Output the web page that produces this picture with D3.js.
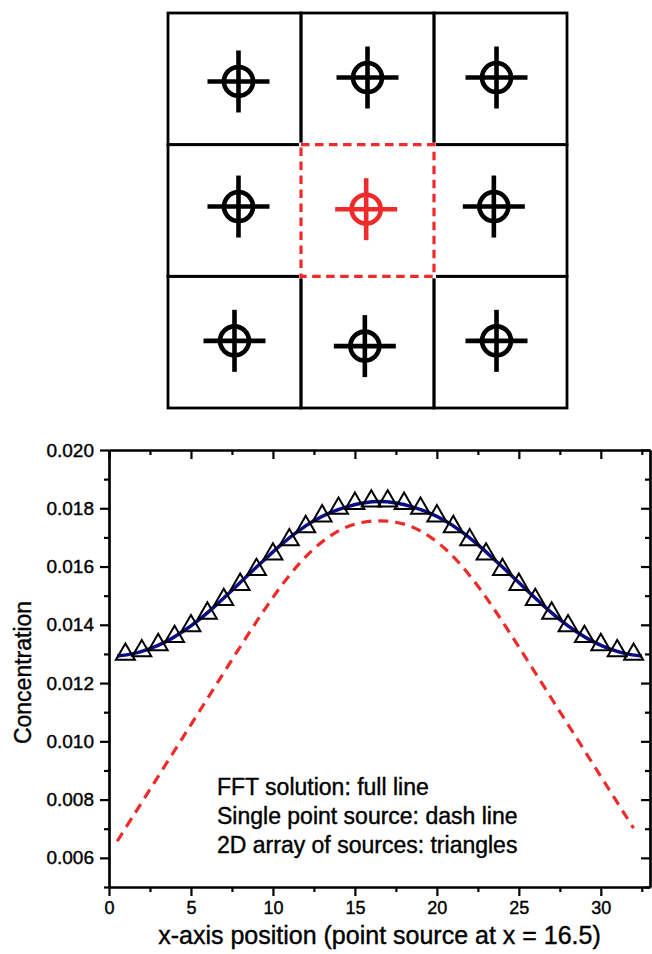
<!DOCTYPE html>
<html>
<head>
<meta charset="utf-8">
<script src="https://cdn.jsdelivr.net/npm/d3@7"></script>
<style>
  body { margin: 0; background: #fff; }
  svg { display: block; font-family: "Liberation Sans", Arial, sans-serif; }
  text { stroke: #000; stroke-width: 0.4px; }
</style>
</head>
<body>
<svg id="chart"></svg>
<script>
// ---- data ----
// source positions in the 3x3 cell diagram (cell units)
const sourceCol = [0.53, 1.50, 2.47, 0.53, 1.49, 2.45, 0.50, 1.48, 2.47];
const sourceRow = [0.52, 0.49, 0.49, 1.47, 1.49, 1.47, 2.49, 2.53, 2.49];
const centerIndex = 4;

// FFT solution (full line)
const fftX = [0.5, 1.5, 2.5, 3.5, 4.5, 5.5, 6.5, 7.5, 8.5, 9.5, 10.5, 11.5, 12.5, 13.5, 14.5, 15.5,
              16.5, 17.5, 18.5, 19.5, 20.5, 21.5, 22.5, 23.5, 24.5, 25.5, 26.5, 27.5, 28.5, 29.5, 30.5, 31.5, 32.5];
const fftY = [0.01293, 0.01301, 0.01318, 0.01343, 0.01377, 0.01418, 0.01466, 0.01518, 0.01572, 0.01624, 0.01675,
              0.01720, 0.01757, 0.01785, 0.01805, 0.01818, 0.01823, 0.01818, 0.01805, 0.01785, 0.01757, 0.01720,
              0.01675, 0.01624, 0.01572, 0.01518, 0.01466, 0.01418, 0.01377, 0.01343, 0.01318, 0.01301, 0.01293];

// single point source (dash line)
const singleX = [0.5, 1.5, 2.5, 3.5, 4.5, 5.5, 6.5, 7.5, 8.5, 9.5, 10.5, 11.5, 12.5, 13.5, 14.5, 15.5,
                 16.5, 17.5, 18.5, 19.5, 20.5, 21.5, 22.5, 23.5, 24.5, 25.5, 26.5, 27.5, 28.5, 29.5, 30.5, 31.5, 32.0];
const singleY = [0.00657, 0.00746, 0.00835, 0.00924, 0.01013, 0.01102, 0.01191, 0.01280, 0.01368, 0.01453, 0.01533,
                 0.01603, 0.01661, 0.01705, 0.01736, 0.01752, 0.01757, 0.01752, 0.01736, 0.01705, 0.01661, 0.01603,
                 0.01533, 0.01453, 0.01368, 0.01280, 0.01191, 0.01102, 0.01013, 0.00924, 0.00835, 0.00746, 0.00702];

// 2D array of sources (triangles)
const triX = [1, 2, 3, 4, 5, 6, 7, 8, 9, 10, 11, 12, 13, 14, 15, 16,
              17, 18, 19, 20, 21, 22, 23, 24, 25, 26, 27, 28, 29, 30, 31, 32];
const triY = [0.01302, 0.01314, 0.01335, 0.01363, 0.01400, 0.01443, 0.01490, 0.01542, 0.01593, 0.01646, 0.01695,
              0.01740, 0.01777, 0.01803, 0.01820, 0.01828, 0.01828, 0.01820, 0.01803, 0.01777, 0.01740, 0.01695,
              0.01646, 0.01593, 0.01542, 0.01490, 0.01443, 0.01400, 0.01363, 0.01335, 0.01314, 0.01302];

const xMajor = [0, 5, 10, 15, 20, 25, 30];
const xMinor = [2.5, 7.5, 12.5, 17.5, 22.5, 27.5, 32.5];
const yMajor = [0.006, 0.008, 0.010, 0.012, 0.014, 0.016, 0.018, 0.020];
const yMinor = [0.005, 0.007, 0.009, 0.011, 0.013, 0.015, 0.017, 0.019];

const legendLines = [
    "FFT solution: full line",
    "Single point source: dash line",
    "2D array of sources: triangles"
];

// ---- setup ----
const width = 652, height = 954;
const svg = d3.select('#chart').attr('width', width).attr('height', height);
const red = '#ee2a2a';

// ---- top diagram: 3x3 cells ----
const gx = d3.scaleLinear().domain([0, 3]).range([168, 567]);
const gy = d3.scaleLinear().domain([0, 3]).range([13, 408]);
const cells = [];
for (let r = 0; r < 3; r++) for (let c = 0; c < 3; c++) cells.push({ r, c });

const diagram = svg.append('g');
diagram.selectAll('rect.cell')
    .data(cells.filter(d => !(d.r === 1 && d.c === 1)))
    .enter().append('rect')
    .attr('x', d => gx(d.c)).attr('y', d => gy(d.r))
    .attr('width', d => gx(d.c + 1) - gx(d.c))
    .attr('height', d => gy(d.r + 1) - gy(d.r))
    .attr('fill', 'none').attr('stroke', '#000').attr('stroke-width', 2.8);

// center cell: wipe the black edges then draw red dashes
diagram.append('rect')
    .attr('x', gx(1)).attr('y', gy(1))
    .attr('width', gx(2) - gx(1)).attr('height', gy(2) - gy(1))
    .attr('fill', '#fff').attr('stroke', '#fff').attr('stroke-width', 4);
diagram.append('rect')
    .attr('x', gx(1)).attr('y', gy(1))
    .attr('width', gx(2) - gx(1)).attr('height', gy(2) - gy(1))
    .attr('fill', 'none').attr('stroke', red).attr('stroke-width', 3.2)
    .attr('stroke-dasharray', '8.5,5.5');

const marks = diagram.selectAll('g.src')
    .data(sourceCol.map((c, i) => ({ c, r: sourceRow[i], i })))
    .enter().append('g')
    .attr('transform', d => `translate(${gx(d.c)},${gy(d.r)})`)
    .attr('stroke', d => d.i === centerIndex ? red : '#000')
    .attr('stroke-width', 4.6)
    .attr('fill', 'none');
marks.append('circle').attr('r', 14.5);
marks.append('line').attr('x1', -31).attr('x2', 31);
marks.append('line').attr('y1', -31).attr('y2', 31);

// ---- bottom chart ----
const x = d3.scaleLinear().domain([0, 33]).range([109, 650]);
const y = d3.scaleLinear().domain([0.005, 0.020]).range([887, 450]);
const [x0, x1] = x.range();
const [y0, y1] = y.range();

const axisStyle = sel => {
    sel.selectAll('path, line').attr('stroke', '#000').attr('stroke-width', 2.2);
    sel.selectAll('text').attr('fill', '#000').style('font-family', '"Liberation Sans", Arial, sans-serif');
};

// bottom axis, outward ticks
svg.append('g').attr('transform', `translate(0,${y0})`)
    .call(d3.axisBottom(x).tickValues(xMajor).tickSize(9).tickSizeOuter(0).tickPadding(5).tickFormat(d3.format('d')))
    .call(axisStyle)
    .call(g => g.selectAll('text').style('font-size', '18px'));
svg.append('g').attr('transform', `translate(0,${y0})`)
    .call(d3.axisBottom(x).tickValues(xMinor).tickSize(5).tickSizeOuter(0).tickFormat(''))
    .call(axisStyle);

// top axis, inward ticks
svg.append('g').attr('transform', `translate(0,${y1})`)
    .call(d3.axisTop(x).tickValues(xMajor).tickSize(-9).tickSizeOuter(0).tickFormat(''))
    .call(axisStyle);
svg.append('g').attr('transform', `translate(0,${y1})`)
    .call(d3.axisTop(x).tickValues(xMinor).tickSize(-5).tickSizeOuter(0).tickFormat(''))
    .call(axisStyle);

// left axis, outward ticks
svg.append('g').attr('transform', `translate(${x0},0)`)
    .call(d3.axisLeft(y).tickValues(yMajor).tickSize(9).tickSizeOuter(0).tickPadding(6).tickFormat(d3.format('.3f')))
    .call(axisStyle)
    .call(g => g.selectAll('text').style('font-size', '19px'));
svg.append('g').attr('transform', `translate(${x0},0)`)
    .call(d3.axisLeft(y).tickValues(yMinor).tickSize(5).tickSizeOuter(0).tickFormat(''))
    .call(axisStyle);

// right axis, inward ticks
svg.append('g').attr('transform', `translate(${x1},0)`)
    .call(d3.axisRight(y).tickValues(yMajor).tickSize(-9).tickSizeOuter(0).tickFormat(''))
    .call(axisStyle);
svg.append('g').attr('transform', `translate(${x1},0)`)
    .call(d3.axisRight(y).tickValues(yMinor).tickSize(-5).tickSizeOuter(0).tickFormat(''))
    .call(axisStyle);

// axis titles
svg.append('text')
    .attr('x', (x0 + x1) / 2).attr('y', 944)
    .attr('text-anchor', 'middle')
    .style('font-size', '25px')
    .text('x-axis position (point source at x = 16.5)');
svg.append('text')
    .attr('transform', `translate(31,${(y0 + y1) / 2 + 4}) rotate(-90)`)
    .attr('text-anchor', 'middle')
    .style('font-size', '23px')
    .text('Concentration');

// series
const line = d3.line().x(d => x(d[0])).y(d => y(d[1])).curve(d3.curveCatmullRom);

svg.append('path')
    .datum(singleX.map((v, i) => [v, singleY[i]]))
    .attr('d', line)
    .attr('fill', 'none').attr('stroke', red).attr('stroke-width', 3.2)
    .attr('stroke-dasharray', '10,7');

svg.append('path')
    .datum(fftX.map((v, i) => [v, fftY[i]]))
    .attr('d', line)
    .attr('fill', 'none').attr('stroke', '#0b0b85').attr('stroke-width', 3.5);

const tri = d3.symbol().type(d3.symbolTriangle).size(155);
svg.append('g').selectAll('path')
    .data(triX.map((v, i) => [v, triY[i]]))
    .enter().append('path')
    .attr('d', tri)
    .attr('transform', d => `translate(${x(d[0])},${y(d[1]) + 1})`)
    .attr('fill', 'none').attr('stroke', '#000').attr('stroke-width', 2);

// legend text
svg.append('g').selectAll('text')
    .data(legendLines)
    .enter().append('text')
    .attr('x', 217)
    .attr('y', (d, i) => 795 + i * 29)
    .style('font-size', '23px')
    .text(d => d);
</script>
</body>
</html>
